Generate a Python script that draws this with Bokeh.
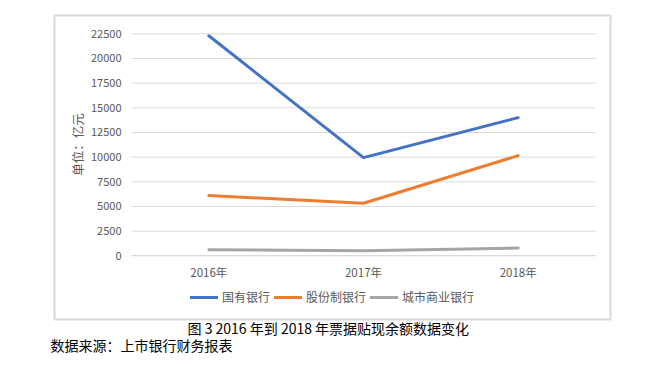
from bokeh.plotting import figure
from bokeh.models import (Range1d, Legend, LegendItem, Title, LinearAxis,
                          FixedTicker, NumeralTickFormatter)
from bokeh.embed import file_html
from bokeh.resources import INLINE

years = ["2016年", "2017年", "2018年"]
state_banks = [22300, 9950, 14000]
joint_stock_banks = [6100, 5330, 10150]
city_banks = [620, 520, 780]
series_names = ["国有银行", "股份制银行", "城市商业银行"]
colors = ["#4472C4", "#ED7D31", "#A5A5A5"]
y_ticks = [0, 2500, 5000, 7500, 10000, 12500, 15000, 17500, 20000, 22500]
y_label = "单位：亿元"
caption = "图 3 2016 年到 2018 年票据贴现余额数据变化"
source_note = "数据来源：上市银行财务报表"

FONT = "Noto Sans CJK SC"
GREY_TXT = "#595959"
GRID = "#D9D9D9"

# category positions on a numeric scale
xs = list(range(len(years)))
x_lo, x_hi = -0.5, len(years) - 0.5
y_lo, y_hi = y_ticks[0], y_ticks[-1]

# frame = outer chart box; plot area sits inside it
px_per_cat = 464 / len(years)
px_per_val = 222 / (y_hi - y_lo)
x_range = Range1d(x_lo - 77 / px_per_cat, x_hi + 15 / px_per_cat)
y_range = Range1d(y_lo - 63.7 / px_per_val, y_hi + 18.3 / px_per_val)

p = figure(width=649, height=367, x_range=x_range, y_range=y_range,
           min_border_left=54, min_border_right=39,
           min_border_top=15, min_border_bottom=48,
           x_axis_location=None, y_axis_location=None,
           output_backend="svg", toolbar_location=None,
           background_fill_color="white", border_fill_color="white")
p.outline_line_color = GRID
p.outline_line_width = 2
p.grid.visible = False

# horizontal gridlines over the plot area
p.segment(x0=[x_lo] * len(y_ticks), x1=[x_hi] * len(y_ticks), y0=y_ticks, y1=y_ticks,
          line_color=GRID, line_width=1)

renderers = []
for vals, c in zip([state_banks, joint_stock_banks, city_banks], colors):
    r = p.line(xs, vals, line_color=c, line_width=3, line_join="round", line_cap="round")
    renderers.append(r)

yaxis = LinearAxis(fixed_location=x_lo, ticker=FixedTicker(ticks=y_ticks),
                   formatter=NumeralTickFormatter(format="0"), bounds=(y_lo, y_hi))
yaxis.axis_line_color = None
yaxis.major_tick_line_color = None
yaxis.minor_tick_line_color = None
yaxis.major_tick_out = 0
yaxis.major_tick_in = 0
yaxis.major_label_standoff = 10
yaxis.major_label_text_font = FONT
yaxis.major_label_text_font_size = "11px"
yaxis.major_label_text_color = GREY_TXT
yaxis.axis_label = y_label
yaxis.axis_label_text_font = FONT
yaxis.axis_label_text_font_size = "12.5px"
yaxis.axis_label_text_font_style = "normal"
yaxis.axis_label_text_color = GREY_TXT
yaxis.axis_label_standoff = 1
p.add_layout(yaxis, "left")

xaxis = LinearAxis(fixed_location=y_lo, ticker=FixedTicker(ticks=xs), bounds=(x_lo, x_hi),
                   major_label_overrides={i: y for i, y in zip(xs, years)})
xaxis.axis_line_color = GRID
xaxis.major_tick_line_color = None
xaxis.minor_tick_line_color = None
xaxis.major_tick_out = 0
xaxis.major_tick_in = 0
xaxis.major_label_standoff = 8
xaxis.major_label_text_font = FONT
xaxis.major_label_text_font_size = "11.5px"
xaxis.major_label_text_color = GREY_TXT
p.add_layout(xaxis, "below")

legend = Legend(items=[LegendItem(label=n, renderers=[r]) for n, r in zip(series_names, renderers)],
                orientation="horizontal", location=(136, 14),
                padding=0, margin=0, spacing=4, label_standoff=4,
                glyph_width=28, glyph_height=12, label_height=12,
                border_line_color=None, background_fill_alpha=0,
                label_text_font=FONT, label_text_font_size="12px",
                label_text_color=GREY_TXT)
p.add_layout(legend, "center")

t1 = Title(text=caption, align="left", offset=133, standoff=-8,
           text_font=FONT, text_font_size="14px", text_font_style="normal", text_color="black")
t2 = Title(text=source_note, align="left", offset=-4, standoff=-2,
           text_font=FONT, text_font_size="14px", text_font_style="normal", text_color="black")
p.add_layout(t1, "below")
p.add_layout(t2, "below")

open("out.html", "w").write(file_html(p, INLINE))
